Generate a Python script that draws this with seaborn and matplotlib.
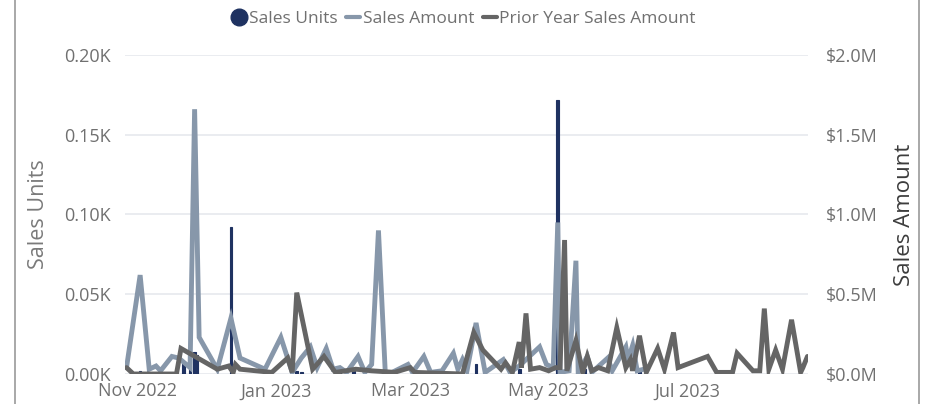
import matplotlib
matplotlib.use("Agg")
import matplotlib.pyplot as plt
import matplotlib.dates as mdates
from matplotlib.lines import Line2D
from matplotlib.ticker import FuncFormatter, MultipleLocator
import pandas as pd
import seaborn as sns

# --- data ------------------------------------------------------------------
amount_dates = [
    "2022-10-27", "2022-11-02", "2022-11-06", "2022-11-09", "2022-11-11",
    "2022-11-16", "2022-11-19", "2022-11-24", "2022-11-26", "2022-11-28",
    "2022-12-06", "2022-12-12", "2022-12-16", "2022-12-27", "2023-01-03",
    "2023-01-08", "2023-01-12", "2023-01-16", "2023-01-19", "2023-01-23",
    "2023-01-26", "2023-01-29", "2023-02-01", "2023-02-06", "2023-02-09",
    "2023-02-12", "2023-02-15", "2023-02-18", "2023-02-21", "2023-02-28",
    "2023-03-02", "2023-03-07", "2023-03-10", "2023-03-15", "2023-03-20",
    "2023-03-22", "2023-03-24", "2023-03-26", "2023-03-30", "2023-04-03",
    "2023-04-11", "2023-04-14", "2023-04-18", "2023-04-27", "2023-04-30",
    "2023-05-03", "2023-05-05", "2023-05-06", "2023-05-10", "2023-05-13",
    "2023-05-14", "2023-05-18", "2023-05-20", "2023-05-27", "2023-05-29",
    "2023-06-04", "2023-06-05", "2023-06-07", "2023-06-09", "2023-06-12",
]
sales_amount = [
    40_000, 620_000, 30_000, 50_000, 20_000,
    110_000, 100_000, 40_000, 1_660_000, 230_000,
    30_000, 350_000, 100_000, 30_000, 230_000,
    10_000, 100_000, 170_000, 40_000, 160_000,
    30_000, 40_000, 10_000, 110_000, 10_000,
    60_000, 900_000, 10_000, 10_000, 60_000,
    10_000, 110_000, 10_000, 20_000, 130_000,
    30_000, 90_000, 20_000, 320_000, 10_000,
    90_000, 10_000, 50_000, 170_000, 60_000,
    40_000, 950_000, 10_000, 20_000, 710_000,
    10_000, 110_000, 10_000, 100_000, 20_000,
    170_000, 90_000, 180_000, 20_000, 30_000,
]

prior_dates = [
    "2022-10-27", "2022-10-30", "2022-11-18", "2022-11-20", "2022-12-06",
    "2022-12-11", "2022-12-13", "2022-12-14", "2022-12-16", "2022-12-30",
    "2023-01-06", "2023-01-08", "2023-01-10", "2023-01-17", "2023-01-22",
    "2023-01-27", "2023-02-05", "2023-02-12", "2023-02-22", "2023-03-01",
    "2023-03-03", "2023-03-24", "2023-03-29", "2023-04-02", "2023-04-10",
    "2023-04-12", "2023-04-15", "2023-04-18", "2023-04-19", "2023-04-21",
    "2023-04-23", "2023-04-27", "2023-05-01", "2023-05-04", "2023-05-06",
    "2023-05-08", "2023-05-09", "2023-05-13", "2023-05-16", "2023-05-18",
    "2023-05-20", "2023-05-23", "2023-05-27", "2023-05-31", "2023-06-04",
    "2023-06-06", "2023-06-07", "2023-06-10", "2023-06-13", "2023-06-18",
    "2023-06-21", "2023-06-25", "2023-06-27", "2023-07-10", "2023-07-14",
    "2023-07-21", "2023-07-23", "2023-07-30", "2023-08-02", "2023-08-04",
    "2023-08-06", "2023-08-09", "2023-08-12", "2023-08-16", "2023-08-20",
    "2023-08-21", "2023-08-23",
]
prior_amount = [
    40_000, 0, 0, 160_000, 30_000,
    50_000, 10_000, 60_000, 30_000, 10_000,
    100_000, 10_000, 510_000, 30_000, 110_000,
    10_000, 30_000, 20_000, 10_000, 40_000,
    10_000, 0, 260_000, 150_000, 30_000,
    70_000, 10_000, 200_000, 40_000, 380_000,
    30_000, 40_000, 20_000, 40_000, 40_000,
    840_000, 20_000, 210_000, 10_000, 110_000,
    20_000, 40_000, 20_000, 290_000, 40_000,
    90_000, 20_000, 240_000, 10_000, 160_000,
    30_000, 260_000, 40_000, 110_000, 10_000,
    10_000, 130_000, 20_000, 20_000, 410_000,
    30_000, 150_000, 30_000, 340_000, 10_000,
    40_000, 110_000,
]

unit_dates = [
    "2022-11-02", "2022-11-21", "2022-11-24", "2022-11-26", "2022-11-27",
    "2022-12-12", "2023-01-10", "2023-01-12", "2023-01-29", "2023-02-04",
    "2023-03-10", "2023-03-30", "2023-04-18", "2023-05-05", "2023-05-17",
    "2023-06-10",
]
sales_units = [2, 7, 5, 14, 12, 92, 2, 1, 4, 4, 2, 6, 3, 172, 3, 3]

COL_UNITS = "#1f3261"
COL_AMOUNT = "#8797aa"
COL_PRIOR = "#656565"
COL_TEXT = "#707070"

amount_df = pd.DataFrame({"date": pd.to_datetime(amount_dates), "amount": sales_amount})
prior_df = pd.DataFrame({"date": pd.to_datetime(prior_dates), "amount": prior_amount})
units_df = pd.DataFrame({"date": pd.to_datetime(unit_dates), "units": sales_units})

sns.set_style("white")
plt.rcParams["font.family"] = ["Open Sans", "DejaVu Sans"]

fig = plt.figure(figsize=(9.28, 4.04), dpi=100)
ax = fig.add_axes([0.1347, 0.0743, 0.7360, 0.7896])
ax2 = ax.twinx()

# columns for units
ax.bar(units_df["date"], units_df["units"], width=1.2, color=COL_UNITS,
       edgecolor=COL_UNITS, linewidth=0.8, zorder=2)

# lines for amounts
sns.lineplot(data=amount_df, x="date", y="amount", ax=ax2, color=COL_AMOUNT,
             linewidth=3.5, solid_joinstyle="miter")
sns.lineplot(data=prior_df, x="date", y="amount", ax=ax2, color=COL_PRIOR,
             linewidth=3.5, solid_joinstyle="miter")

ax.set_ylim(0, 200)
ax2.set_ylim(0, 2_000_000)
ax.set_xlim(pd.Timestamp("2022-10-26 08:00"), pd.Timestamp("2023-08-23 06:00"))

ax.yaxis.set_major_locator(MultipleLocator(50))
ax2.yaxis.set_major_locator(MultipleLocator(500_000))
ax.yaxis.set_major_formatter(FuncFormatter(lambda v, p: f"{v / 1000:.2f}K"))
ax2.yaxis.set_major_formatter(FuncFormatter(lambda v, p: f"${v / 1e6:.1f}M"))

ax.xaxis.set_major_locator(mdates.MonthLocator(bymonth=[1, 3, 5, 7, 11]))
ax.xaxis.set_major_formatter(mdates.DateFormatter("%b %Y"))

ax.grid(axis="y", color="#e6e9ed", linewidth=1.2, zorder=0)
ax.set_axisbelow(True)
ax2.grid(False)
for a in (ax, ax2):
    for s in a.spines.values():
        s.set_visible(False)

ax.tick_params(axis="y", length=0, pad=10, labelsize=13, labelcolor=COL_TEXT)
ax2.tick_params(axis="y", length=0, pad=13, labelsize=13, labelcolor=COL_TEXT)
ax.tick_params(axis="x", length=0, pad=6, labelsize=13, labelcolor=COL_TEXT)

ax.set_xlabel("")
ax2.set_xlabel("")
ax.set_ylabel("Sales Units", fontsize=15.5, color="#7a7a7a", labelpad=11)
ax2.set_ylabel("Sales Amount", fontsize=16, color="#3c3c3c", labelpad=12)

handles = [
    Line2D([], [], marker="o", linestyle="", markersize=12, color=COL_UNITS),
    Line2D([], [], color=COL_AMOUNT, linewidth=3),
    Line2D([], [], color=COL_PRIOR, linewidth=3),
]
fig.legend(handles, ["Sales Units", "Sales Amount", "Prior Year Sales Amount"],
           loc="center", bbox_to_anchor=(0.500, 0.952), ncol=3, frameon=False,
           fontsize=12.5, labelcolor=COL_TEXT, handlelength=0.8,
           handletextpad=0.15, columnspacing=0.5)

# report frame edges
fig.add_artist(Line2D([15 / 928, 15 / 928], [0, 1], color="#9a9a9a", linewidth=1.2))
fig.add_artist(Line2D([919 / 928, 919 / 928], [0, 1], color="#9a9a9a", linewidth=1.2))

fig.savefig("out.png", dpi=100)
